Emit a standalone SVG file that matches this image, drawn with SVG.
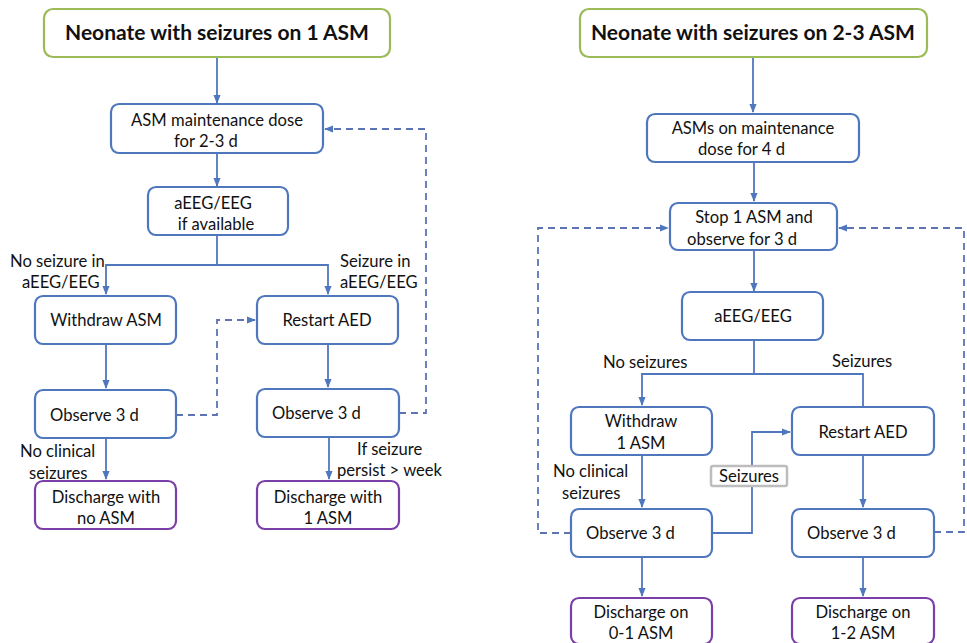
<svg xmlns="http://www.w3.org/2000/svg" width="967" height="643" viewBox="0 0 967 643">
<style>
text{font-family:Lato,"Liberation Sans",sans-serif;font-size:16.6px;fill:#111}
.t{font-size:21px;font-weight:bold}
.m{text-anchor:middle}
.g{fill:#fff;stroke:#9BBB59;stroke-width:2.2}
.b{fill:#fff;stroke:#4F77BE;stroke-width:2.2}
.p{fill:#fff;stroke:#7A3FA8;stroke-width:2.2}
.c{fill:none;stroke:#4F77BE;stroke-width:1.8}
.d{fill:none;stroke:#5C74B4;stroke-width:1.8;stroke-dasharray:7 5}
</style>
<defs>
<marker id="a" viewBox="0 0 10 10" refX="9" refY="5" markerWidth="5" markerHeight="5" orient="auto"><path d="M0,1 L10,5 L0,9 z" fill="#4F77BE"/></marker>
</defs>
<g id="connectors">
<path class="c" d="M217,57 V103" marker-end="url(#a)"/>
<path class="c" d="M217,153 V186" marker-end="url(#a)"/>
<path class="c" d="M217,235 V265 H106 V294" marker-end="url(#a)"/>
<path class="c" d="M217,265 H328 V294" marker-end="url(#a)"/>
<path class="c" d="M106,344 V388" marker-end="url(#a)"/>
<path class="c" d="M328,344 V387" marker-end="url(#a)"/>
<path class="c" d="M106,438 V479" marker-end="url(#a)"/>
<path class="c" d="M329,437 V479" marker-end="url(#a)"/>
<path class="d" d="M176,415 H217 V320 H255" marker-end="url(#a)"/>
<path class="d" d="M399,413 H426 V129 H325" marker-end="url(#a)"/>
<path class="c" d="M753,57 V112" marker-end="url(#a)"/>
<path class="c" d="M754,162 V201" marker-end="url(#a)"/>
<path class="c" d="M754,250 V291" marker-end="url(#a)"/>
<path class="c" d="M754,340 V374 H642 V405" marker-end="url(#a)"/>
<path class="c" d="M754,374 H863 V407"/>
<path class="c" d="M642,455 V507" marker-end="url(#a)"/>
<path class="c" d="M863,455 V507" marker-end="url(#a)"/>
<path class="c" d="M642,557 V596" marker-end="url(#a)"/>
<path class="c" d="M863,557 V596" marker-end="url(#a)"/>
<path class="c" d="M712,533 H752 V432 H790" marker-end="url(#a)"/>
<path class="d" d="M571,533 H538 V228 H668" marker-end="url(#a)"/>
<path class="d" d="M934,532 H964 V228 H839" marker-end="url(#a)"/>
</g>
<g id="n1"><rect class="g" x="44" y="9" width="346" height="48" rx="9"/><text class="t m" x="217" y="40">Neonate with seizures on 1 ASM</text></g>
<g id="n2"><rect class="b" x="111" y="104" width="212" height="49" rx="8"/><text class="m" x="217" y="126">ASM maintenance dose</text><text x="174" y="147">for 2-3 d</text></g>
<g id="n3"><rect class="b" x="148" y="187" width="140" height="48" rx="8"/><text class="m" x="213" y="209">aEEG/EEG</text><text class="m" x="216" y="230">if available</text></g>
<g id="l1"><text x="10" y="267">No seizure in</text><text x="22" y="288">aEEG/EEG</text></g>
<g id="l2"><text x="340" y="267">Seizure in</text><text x="340" y="288">aEEG/EEG</text></g>
<g id="n4"><rect class="b" x="35" y="296" width="141" height="48" rx="8"/><text class="m" x="106" y="326">Withdraw ASM</text></g>
<g id="n5"><rect class="b" x="257" y="296" width="141" height="48" rx="8"/><text class="m" x="327" y="326">Restart AED</text></g>
<g id="n6"><rect class="b" x="35" y="390" width="141" height="48" rx="8"/><text x="50" y="421">Observe 3 d</text></g>
<g id="n7"><rect class="b" x="257" y="389" width="142" height="48" rx="8"/><text x="272" y="419">Observe 3 d</text></g>
<g id="l3"><text x="20" y="457">No clinical</text><text x="29" y="479">seizures</text></g>
<g id="l4"><text x="357" y="455">If seizure</text><text x="337" y="476">persist &gt; week</text></g>
<g id="n8"><rect class="p" x="35" y="481" width="141" height="48" rx="8"/><text class="m" x="106" y="503">Discharge with</text><text class="m" x="106" y="524">no ASM</text></g>
<g id="n9"><rect class="p" x="257" y="481" width="142" height="48" rx="8"/><text class="m" x="328" y="503">Discharge with</text><text class="m" x="328" y="524">1 ASM</text></g>
<g id="r1"><rect class="g" x="580" y="9" width="347" height="48" rx="9"/><text class="t m" x="753" y="40">Neonate with seizures on 2-3 ASM</text></g>
<g id="r2"><rect class="b" x="647" y="114" width="212" height="48" rx="8"/><text class="m" x="753" y="134">ASMs on maintenance</text><text x="698" y="155">dose for 4 d</text></g>
<g id="r3"><rect class="b" x="670" y="203" width="167" height="47" rx="8"/><text class="m" x="754" y="223">Stop 1 ASM and</text><text x="687" y="245">observe for 3 d</text></g>
<g id="r4"><rect class="b" x="682" y="292" width="141" height="48" rx="8"/><text class="m" x="753" y="322">aEEG/EEG</text></g>
<g id="rl1"><text x="603" y="368">No seizures</text></g>
<g id="rl2"><text x="832" y="367">Seizures</text></g>
<g id="r5"><rect class="b" x="571" y="407" width="141" height="48" rx="8"/><text class="m" x="641" y="427">Withdraw</text><text class="m" x="641" y="449">1 ASM</text></g>
<g id="r6"><rect class="b" x="792" y="407" width="142" height="48" rx="8"/><text class="m" x="863" y="438">Restart AED</text></g>
<g id="rl3"><text x="553" y="477">No clinical</text><text x="562" y="499">seizures</text></g>
<g id="rl4"><rect x="711" y="466" width="76" height="20" rx="2" fill="#fff" stroke="#BDBDBD" stroke-width="2.5"/><text class="m" x="749" y="482">Seizures</text></g>
<g id="r7"><rect class="b" x="571" y="509" width="141" height="48" rx="8"/><text x="586" y="539">Observe 3 d</text></g>
<g id="r8"><rect class="b" x="792" y="509" width="142" height="48" rx="8"/><text x="807" y="539">Observe 3 d</text></g>
<g id="r9"><rect class="p" x="571" y="598" width="141" height="46" rx="8"/><text class="m" x="641" y="618">Discharge on</text><text class="m" x="641" y="639">0-1 ASM</text></g>
<g id="r10"><rect class="p" x="792" y="598" width="142" height="46" rx="8"/><text class="m" x="863" y="618">Discharge on</text><text class="m" x="863" y="639">1-2 ASM</text></g>
</svg>
